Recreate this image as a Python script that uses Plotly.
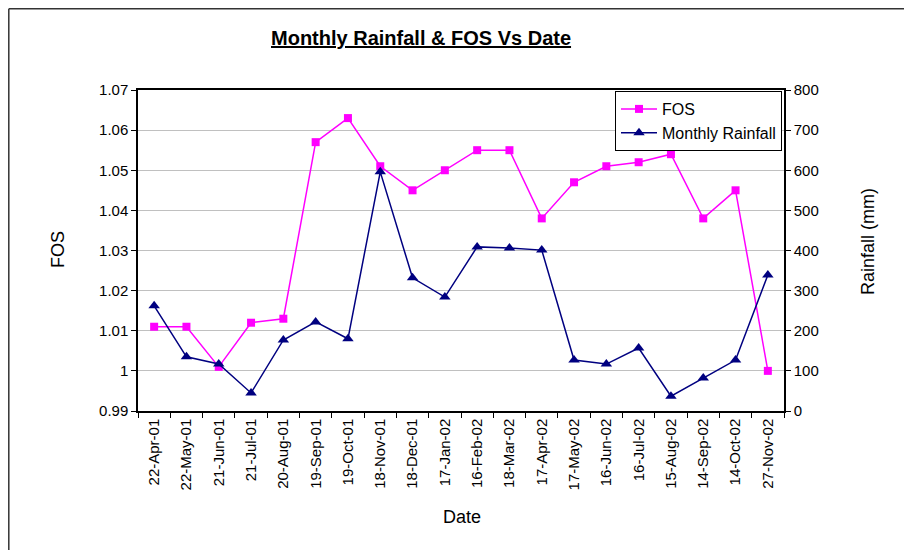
import plotly.graph_objects as go

dates = ["22-Apr-01", "22-May-01", "21-Jun-01", "21-Jul-01", "20-Aug-01", "19-Sep-01",
         "19-Oct-01", "18-Nov-01", "18-Dec-01", "17-Jan-02", "16-Feb-02", "18-Mar-02",
         "17-Apr-02", "17-May-02", "16-Jun-02", "16-Jul-02", "15-Aug-02", "14-Sep-02",
         "14-Oct-02", "27-Nov-02"]
fos = [1.011, 1.011, 1.001, 1.012, 1.013, 1.057, 1.063, 1.051, 1.045, 1.050,
       1.055, 1.055, 1.038, 1.047, 1.051, 1.052, 1.054, 1.038, 1.045, 1.000]
rainfall = [262, 135, 117, 45, 177, 222, 180, 596, 332, 284,
            409, 406, 401, 127, 117, 157, 37, 82, 127, 339]
fos_ticks = [0.99, 1.0, 1.01, 1.02, 1.03, 1.04, 1.05, 1.06, 1.07]
fos_ticktext = ["0.99", "1", "1.01", "1.02", "1.03", "1.04", "1.05", "1.06", "1.07"]

FONT = "Arial, Liberation Sans, sans-serif"

fig = go.Figure()
fig.add_trace(go.Scatter(
    x=dates, y=fos, name="FOS", mode="lines+markers",
    line=dict(color="#ff00ff", width=1.5),
    marker=dict(symbol="square", size=8, color="#ff00ff"),
))
fig.add_trace(go.Scatter(
    x=dates, y=rainfall, name="Monthly Rainfall", mode="lines+markers", yaxis="y2",
    line=dict(color="#000080", width=1.5),
    marker=dict(symbol="triangle-up", size=10, color="#000080"),
))

# page has an 8px body margin; plot area in page coords: 138..784 x 90..411
OFF = 8
PL, PR, PT, PB = 138, 784, 90, 411
W, H = 912 - OFF, 550 - OFF
pw, ph = PR - PL, PB - PT


def px(x):
    return (x - PL) / pw


def py(y):
    return (PB - y) / ph


def label(text, x, y, size, angle=0):
    return dict(text=text, x=px(x), y=py(y), xref="paper", yref="paper",
                xanchor="center", yanchor="middle", showarrow=False,
                textangle=angle, font=dict(size=size, family=FONT, color="black"))


fig.update_layout(
    width=W, height=H,
    margin=dict(l=PL - OFF, r=W - (PR - OFF), t=PT - OFF, b=H - (PB - OFF), pad=0),
    paper_bgcolor="white", plot_bgcolor="white",
    font=dict(family=FONT, size=15, color="black"),
    showlegend=True,
    legend=dict(
        x=px(782), y=py(91), xanchor="right", yanchor="top",
        bordercolor="black", borderwidth=1, bgcolor="white",
        font=dict(family=FONT, size=16, color="black"),
        tracegroupgap=0, itemwidth=36,
    ),
    xaxis=dict(
        type="category", showline=True, linecolor="black", linewidth=1.5, mirror=True,
        ticks="outside", ticklen=5, tickcolor="black", tickson="boundaries",
        tickangle=-90, showgrid=False, tickfont=dict(size=15, family=FONT),
        range=[-0.5, len(dates) - 0.5],
    ),
    yaxis=dict(
        range=[0.99, 1.07],
        showline=True, linecolor="black", linewidth=1.5, mirror=True,
        ticks="outside", ticklen=5, tickcolor="black",
        showgrid=True, gridcolor="#c0c0c0", gridwidth=1,
        tickfont=dict(size=15, family=FONT), zeroline=False,
        tickvals=fos_ticks, ticktext=fos_ticktext,
    ),
    yaxis2=dict(
        range=[0, 800], dtick=100, overlaying="y", side="right",
        showline=True, linecolor="black", linewidth=1.5,
        ticks="outside", ticklen=5, tickcolor="black",
        showgrid=False, zeroline=False, tickfont=dict(size=15, family=FONT),
    ),
    annotations=[
        label("<b><u>Monthly Rainfall & FOS Vs Date</u></b>", 421, 38, 20),
        label("FOS", 58, 250, 18, -90),
        label("Rainfall (mm)", 868, 242, 18, -90),
        label("Date", 462, 517, 18),
    ],
    shapes=[
        dict(type="line", xref="paper", yref="paper",
             x0=px(8.8), x1=px(8.8), y0=py(560), y1=py(8.8),
             line=dict(color="#333333", width=1.5)),
        dict(type="line", xref="paper", yref="paper",
             x0=px(8.8), x1=px(920), y0=py(8.8), y1=py(8.8),
             line=dict(color="#333333", width=1.5)),
    ],
)

fig.write_html("out.html")
